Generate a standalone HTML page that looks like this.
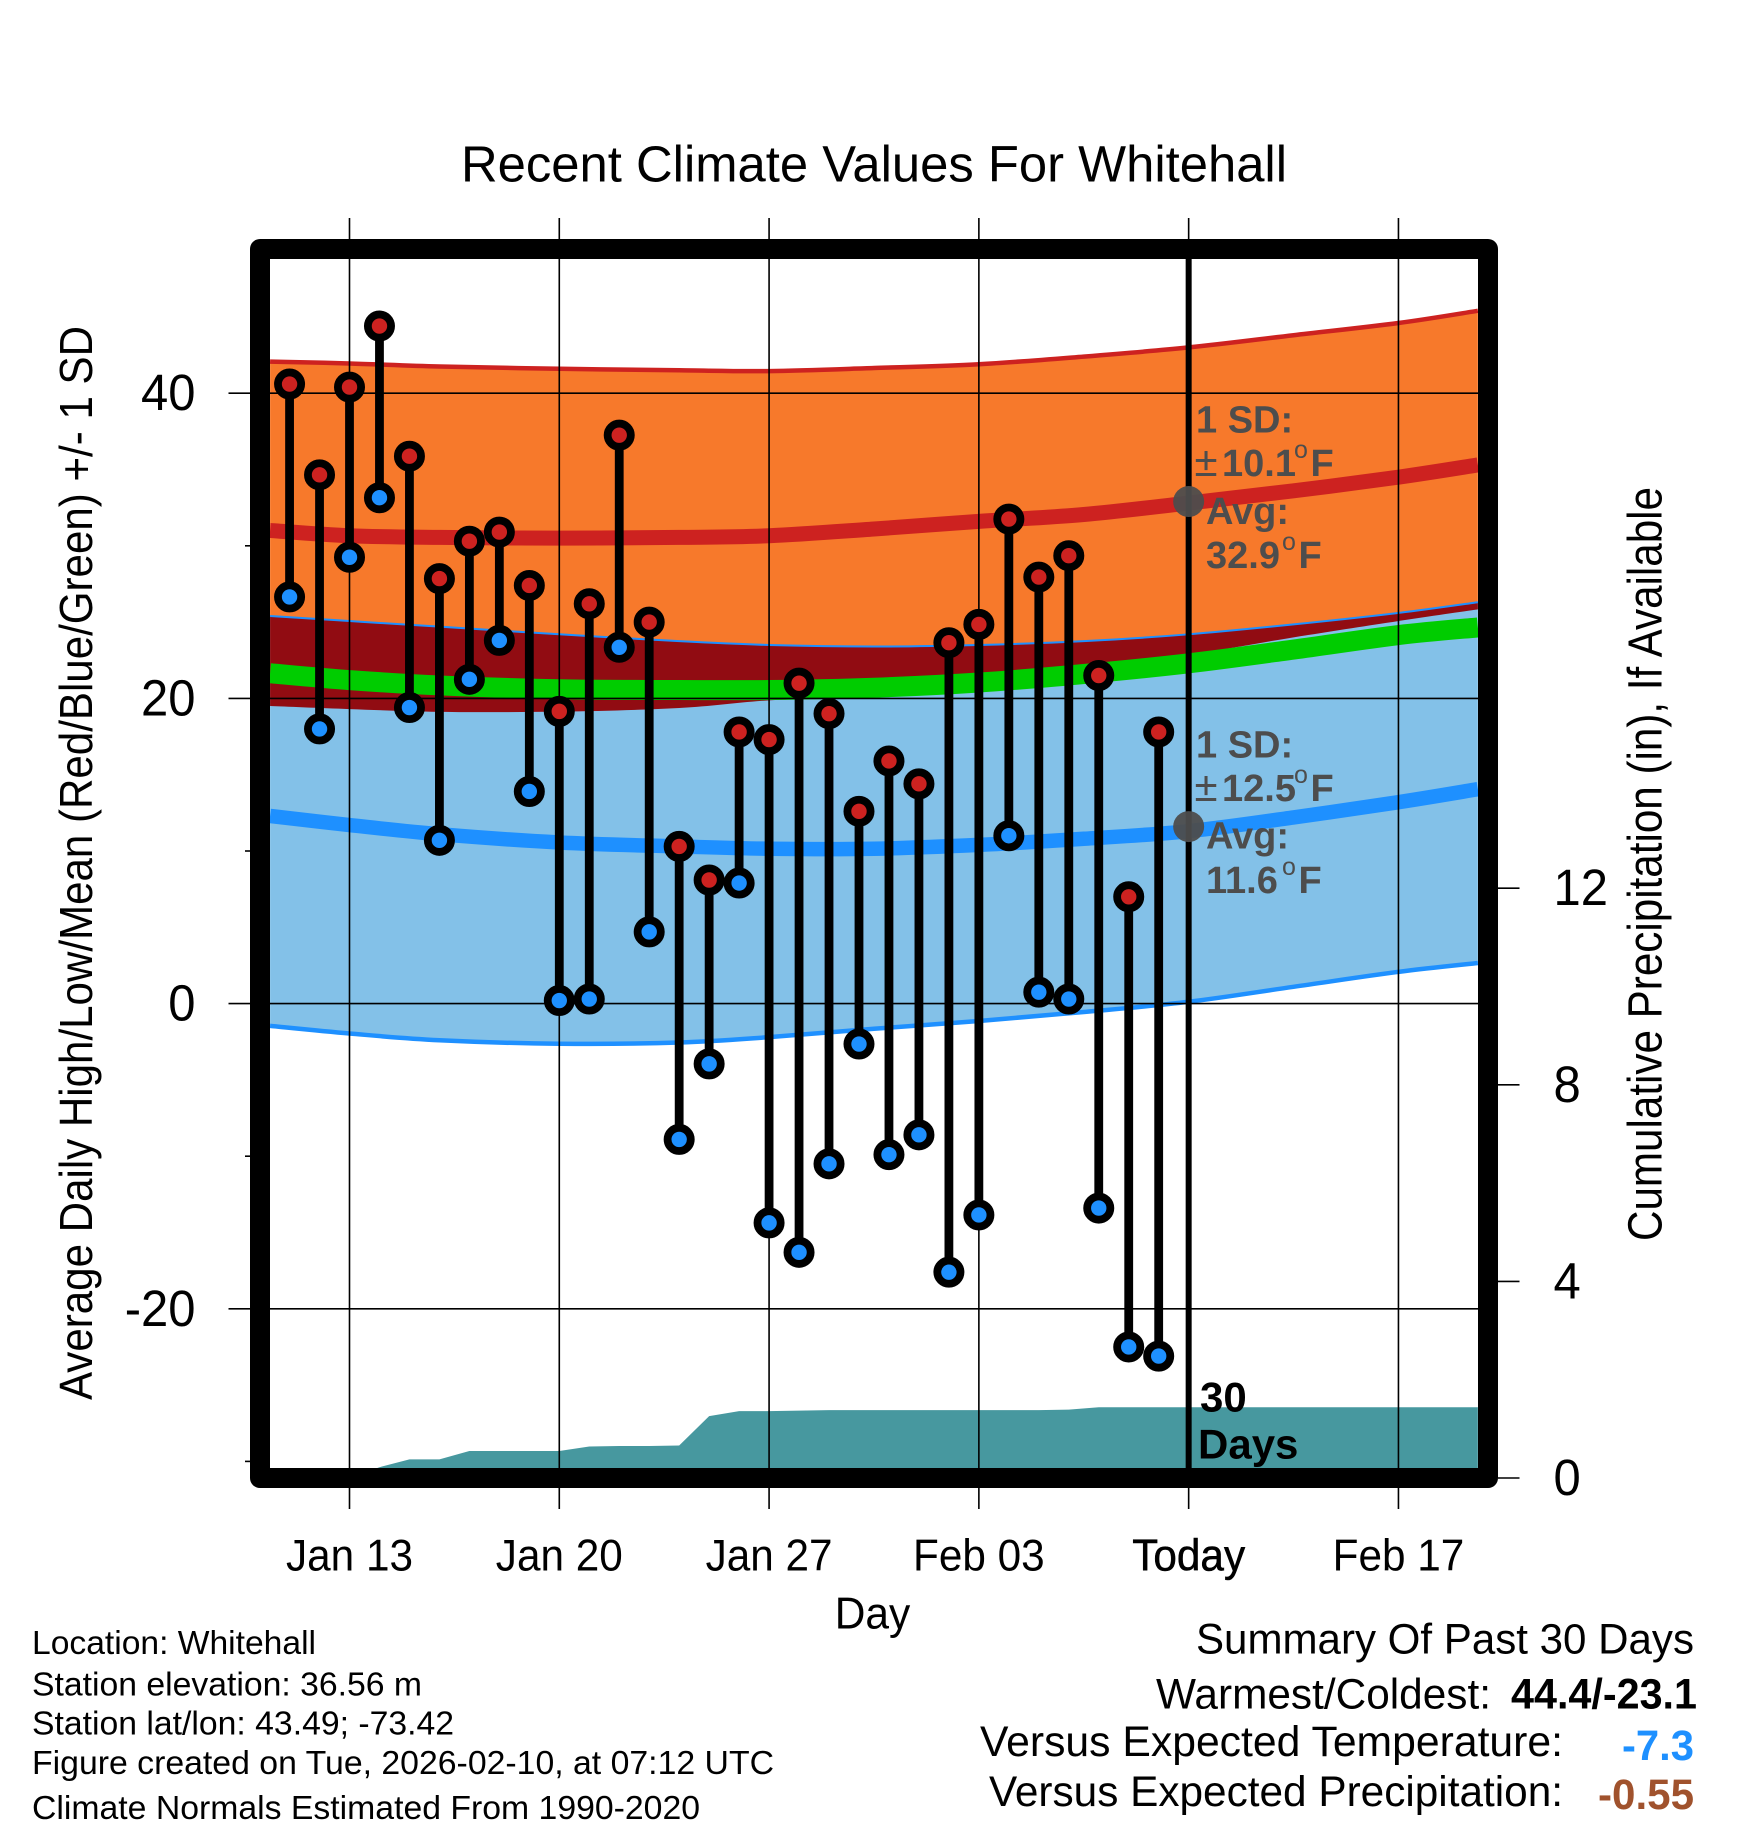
<!DOCTYPE html>
<html lang="en">
<head>
<meta charset="utf-8">
<title>Recent Climate Values For Whitehall</title>
<style>
html,body{margin:0;padding:0;background:#fff;width:1748px;height:1828px;overflow:hidden}
svg{display:block}
text{font-family:"Liberation Sans",sans-serif;fill:#000}
.note{font-weight:bold;fill:#4d4d4d;font-size:38px}
.thin{font-weight:normal}
</style>
</head>
<body>
<svg id="chart" xmlns="http://www.w3.org/2000/svg" width="1748" height="1828" viewBox="0 0 1748 1828">
  <defs>
    <clipPath id="plot-clip"><rect x="270" y="259" width="1208" height="1209"/></clipPath>
  </defs>
  <rect x="0" y="0" width="1748" height="1828" fill="#fff"/>
  <text x="874" y="181.3" font-size="51" text-anchor="middle" textLength="826" lengthAdjust="spacingAndGlyphs">Recent Climate Values For Whitehall</text>
  <g id="plot-area" clip-path="url(#plot-clip)"></g>
  <g id="axes"></g>
  <g id="marks" clip-path="url(#plot-clip)"></g>
  <rect x="260" y="249" width="1228" height="1229" fill="none" stroke="#000" stroke-width="20" stroke-linejoin="round"/>

  <g>
    <text class="note" x="1196" y="432.6">1 SD:</text>
    <text class="note" y="475.9"><tspan class="thin" font-size="42" x="1194.5">±</tspan><tspan x="1222">10.1</tspan><tspan class="thin" font-size="25" x="1294" dy="-18">o</tspan><tspan x="1310.5" dy="18">F</tspan></text>
    <text class="note" x="1206" y="524">Avg:</text>
    <text class="note" y="568"><tspan x="1206">32.9</tspan><tspan class="thin" font-size="25" x="1282" dy="-18">o</tspan><tspan x="1298.5" dy="18">F</tspan></text>
  </g>
  <g>
    <text class="note" x="1196" y="757.6">1 SD:</text>
    <text class="note" y="800.9"><tspan class="thin" font-size="42" x="1194.5">±</tspan><tspan x="1222">12.5</tspan><tspan class="thin" font-size="25" x="1294" dy="-18">o</tspan><tspan x="1310.5" dy="18">F</tspan></text>
    <text class="note" x="1206" y="848.5">Avg:</text>
    <text class="note" y="892.8"><tspan x="1206">11.6</tspan><tspan class="thin" font-size="25" x="1282" dy="-18">o</tspan><tspan x="1298.5" dy="18">F</tspan></text>
  </g>
  <text x="1200" y="1411.7" font-size="42" font-weight="bold">30</text>
  <text x="1198" y="1458.3" font-size="42" font-weight="bold">Days</text>

  <text transform="translate(872.5,1628.3) scale(1,1.05)" font-size="42.5" text-anchor="middle">Day</text>
  <text transform="translate(92,863) rotate(-90) scale(1,1.1)" font-size="42" text-anchor="middle" textLength="1074" lengthAdjust="spacingAndGlyphs">Average Daily High/Low/Mean (Red/Blue/Green) +/- 1 SD</text>
  <text transform="translate(1661.5,864) rotate(-90) scale(1,1.15)" font-size="42" text-anchor="middle" textLength="754" lengthAdjust="spacingAndGlyphs">Cumulative Precipitation (in), If Available</text>

  <g>
    <text x="32" y="1654" font-size="33.4" textLength="284" lengthAdjust="spacingAndGlyphs">Location: Whitehall</text>
    <text x="32" y="1695.5" font-size="33.4" textLength="390" lengthAdjust="spacingAndGlyphs">Station elevation: 36.56 m</text>
    <text x="32" y="1734.5" font-size="33.4" textLength="422" lengthAdjust="spacingAndGlyphs">Station lat/lon: 43.49; -73.42</text>
    <text x="32" y="1773.8" font-size="33.4" textLength="742" lengthAdjust="spacingAndGlyphs">Figure created on Tue, 2026-02-10, at 07:12 UTC</text>
    <text x="32" y="1818.8" font-size="33.4" textLength="668" lengthAdjust="spacingAndGlyphs">Climate Normals Estimated From 1990-2020</text>
  </g>

  <g>
    <text x="1196" y="1653.7" font-size="43" textLength="498" lengthAdjust="spacingAndGlyphs">Summary Of Past 30 Days</text>
    <text x="1156" y="1708.3" font-size="43" textLength="335" lengthAdjust="spacingAndGlyphs">Warmest/Coldest:</text>
    <text x="1511" y="1708.3" font-size="43" font-weight="bold" textLength="186" lengthAdjust="spacingAndGlyphs">44.4/-23.1</text>
    <text x="980" y="1756" font-size="43" textLength="583" lengthAdjust="spacingAndGlyphs">Versus Expected Temperature:</text>
    <text x="1622" y="1760" font-size="43" font-weight="bold" style="fill:#1e90ff" textLength="72" lengthAdjust="spacingAndGlyphs">-7.3</text>
    <text x="989" y="1806" font-size="43" textLength="574" lengthAdjust="spacingAndGlyphs">Versus Expected Precipitation:</text>
    <text x="1598" y="1809" font-size="43" font-weight="bold" style="fill:#a0522d" textLength="96" lengthAdjust="spacingAndGlyphs">-0.55</text>
  </g>
</svg>
<script>
// Daily observations (index 0 = Jan 11)
var highs = [40.6,34.65,40.4,44.4,35.87,27.85,30.3,30.9,27.4,19.15,26.2,37.25,25.0,10.3,8.1,17.8,17.3,21.0,19.0,12.6,15.9,14.4,23.65,24.85,31.75,27.95,29.35,21.5,7.0,17.8];
var lows = [26.65,18.0,29.25,33.15,19.4,10.7,21.25,23.8,13.9,0.2,0.3,23.35,4.7,-8.9,-3.95,7.9,-14.37,-16.3,-10.5,-2.65,-9.9,-8.6,-17.6,-13.85,11.0,0.75,0.3,-13.4,-22.5,-23.1];
var precip = [0,0,0,0.22,0.38,0.38,0.55,0.55,0.55,0.55,0.64,0.65,0.65,0.66,1.26,1.36,1.36,1.37,1.38,1.38,1.38,1.38,1.38,1.38,1.38,1.38,1.39,1.44,1.44,1.44];
// Climatology, sampled at climDays
var climDays = [-0.65,2,5,9,13,16,19.5,23,26.5,30,33.5,37,39.65];
var highUpper = [42.07,41.95,41.75,41.6,41.5,41.45,41.65,41.9,42.4,43.0,43.8,44.6,45.4];
var highMean = [31.0,30.66,30.55,30.5,30.55,30.66,31.1,31.6,32.05,32.8,33.6,34.5,35.3];
var highLower = [19.5,19.3,19.12,19.13,19.37,19.87,20.2,21.3,22.0,22.85,24.0,25.07,25.83];
var lowUpper = [25.4,25.07,24.7,24.2,23.75,23.5,23.4,23.5,23.75,24.2,24.85,25.6,26.3];
var greenMean = [21.65,21.2,20.85,20.6,20.55,20.55,20.7,21.04,21.6,22.3,23.2,24.15,24.65];
var lowMean = [12.3,11.7,11.1,10.56,10.3,10.15,10.15,10.4,10.8,11.3,12.2,13.2,14.05];
var lowLower = [-1.46,-1.96,-2.4,-2.63,-2.55,-2.2,-1.65,-1.14,-0.55,0.12,1.1,2.08,2.66];
// Axes
var xTickDays = [2,9,16,23,30,37];
var xTickLabels = ["Jan 13","Jan 20","Jan 27","Feb 03","Today","Feb 17"];
var yMajorTicks = [40,20,0,-20];
var yMinorTicks = [30,10,-10,-30];
var precipTicks = [0,4,8,12];
var todayIndex = 30;
var avgHigh = 32.9;
var avgLow = 11.6;
var domainEnd = 39.65;

var NS = "http://www.w3.org/2000/svg";
function xScale(d){ return 349.5 + (d - 2) * 29.97; }
function yTemp(v){ return 1003.6 - 15.26 * v; }
function yPrecip(v){ return 1478 - 49.15 * v; }
function make(tag, parent){ var e = document.createElementNS(NS, tag); parent.appendChild(e); return e; }
function curvePts(values){
  return values.map(function(v,i){ return [xScale(climDays[i]), yTemp(v)]; });
}
function curveSegs(p){
  var s = "";
  for (var i = 0; i < p.length - 1; i++) {
    var p0 = p[Math.max(i - 1, 0)], p1 = p[i], p2 = p[i + 1], p3 = p[Math.min(i + 2, p.length - 1)];
    var c1x = p1[0] + (p2[0] - p0[0]) / 6, c1y = p1[1] + (p2[1] - p0[1]) / 6;
    var c2x = p2[0] - (p3[0] - p1[0]) / 6, c2y = p2[1] - (p3[1] - p1[1]) / 6;
    s += " C" + c1x.toFixed(2) + " " + c1y.toFixed(2) + " " + c2x.toFixed(2) + " " + c2y.toFixed(2) + " " + p2[0].toFixed(2) + " " + p2[1].toFixed(2);
  }
  return s;
}
function linePath(values){
  var p = curvePts(values);
  return "M" + p[0][0].toFixed(2) + " " + p[0][1].toFixed(2) + curveSegs(p);
}
function bandPath(top, bottom){
  var b = curvePts(bottom).reverse();
  return linePath(top) + " L" + b[0][0].toFixed(2) + " " + b[0][1].toFixed(2) + curveSegs(b) + " Z";
}
function drawPath(parent, d, fill, stroke, width){
  var e = make("path", parent);
  e.setAttribute("d", d);
  e.setAttribute("fill", fill);
  e.setAttribute("stroke", stroke);
  e.setAttribute("stroke-width", width);
  return e;
}
function drawLine(parent, x1, y1, x2, y2, width, color){
  var e = make("line", parent);
  e.setAttribute("x1", x1); e.setAttribute("y1", y1);
  e.setAttribute("x2", x2); e.setAttribute("y2", y2);
  e.setAttribute("stroke", color || "#000");
  e.setAttribute("stroke-width", width);
  return e;
}
function drawText(parent, str, x, y, size, anchor){
  var e = make("text", parent);
  e.textContent = str;
  e.setAttribute("transform", "translate(" + x + "," + y + ") scale(1,1.05)");
  e.setAttribute("font-size", size);
  e.setAttribute("text-anchor", anchor);
  return e;
}

var plot = document.getElementById("plot-area");
var axes = document.getElementById("axes");
var marks = document.getElementById("marks");

var el;
el = drawPath(plot, bandPath(highUpper, highLower), "#f7792b", "none", 0);


el = drawPath(plot, bandPath(lowUpper, lowLower), "#83c1e8", "none", 0);



// overlap between the two bands
el = drawPath(plot, bandPath(lowUpper, highLower), "#910c12", "none", 0);



el = drawPath(plot, linePath(greenMean), "none", "#00cc00", 20);


el = drawPath(plot, linePath(highUpper), "none", "#cd2220", 4.5);


el = drawPath(plot, linePath(highMean), "none", "#cd2220", 15);


el = drawPath(plot, linePath(lowUpper), "none", "#1e90ff", 2);


el = drawPath(plot, linePath(lowMean), "none", "#1e90ff", 14.5);


el = drawPath(plot, linePath(lowLower), "none", "#1e90ff", 4.5);



// precipitation area
var precipD = "M" + xScale(0) + " " + yPrecip(0);
precip.forEach(function(v,i){ precipD += " L" + xScale(i).toFixed(2) + " " + yPrecip(v).toFixed(2); });
precipD += " L" + xScale(domainEnd).toFixed(2) + " " + yPrecip(precip[precip.length - 1]).toFixed(2);
precipD += " L" + xScale(domainEnd).toFixed(2) + " " + yPrecip(0) + " Z";
el = drawPath(plot, precipD, "#47989f", "none", 0);



// y ticks and gridlines
yMajorTicks.forEach(function(v){
  var g = drawLine(axes, 228.5, yTemp(v), 1478, yTemp(v), 1.6);
  
  
  var t = drawText(axes, String(v), 195.5, yTemp(v) + 17, 49, "end");
  
  
});
yMinorTicks.forEach(function(v){
  var g = drawLine(axes, 245, yTemp(v), 252, yTemp(v), 1.6);
  
  
});
// x ticks and gridlines
xTickDays.forEach(function(d,i){
  var g = drawLine(axes, xScale(d), 218, xScale(d), 1509, 1.6);
  
  
  var t = drawText(axes, xTickLabels[i], xScale(d), 1570.7, 42.3, "middle");
  
  
  if (xTickLabels[i] === "Today") {
    t.setAttribute("stroke", "#000");
    t.setAttribute("stroke-width", "0.5");
  }
});
// precipitation axis
precipTicks.forEach(function(v){
  var g = drawLine(axes, 1498, yPrecip(v), 1519.5, yPrecip(v), 1.6);
  
  
  var t = drawText(axes, String(v), 1553.5, yPrecip(v) + 17, 49, "start");
  
  
});

// daily marks
highs.forEach(function(hi,i){
  var x = xScale(i);
  var stem = drawLine(marks, x, yTemp(hi), x, yTemp(lows[i]), 8.8);
  
  
});
function dot(x, y, fill){
  var c = make("circle", marks);
  c.setAttribute("cx", x);
  c.setAttribute("cy", y);
  c.setAttribute("r", 11.6);
  c.setAttribute("fill", fill);
  c.setAttribute("stroke", "#000");
  c.setAttribute("stroke-width", 7.8);
  return c;
}
lows.forEach(function(v,i){
  var c = dot(xScale(i), yTemp(v), "#1e90ff");
  
  
});
highs.forEach(function(v,i){
  var c = dot(xScale(i), yTemp(v), "#cd2220");
  
  
});

// today marker
var todayX = xScale(todayIndex);
el = drawLine(marks, todayX, 259, todayX, 1468, 6);


[avgHigh, avgLow].forEach(function(v){
  var c = make("circle", marks);
  c.setAttribute("cx", todayX);
  c.setAttribute("cy", yTemp(v));
  c.setAttribute("r", 15.5);
  c.setAttribute("fill", "#4d4d4d");
  c.setAttribute("fill-opacity", "0.95");
  
  
});
</script>
</body>
</html>
